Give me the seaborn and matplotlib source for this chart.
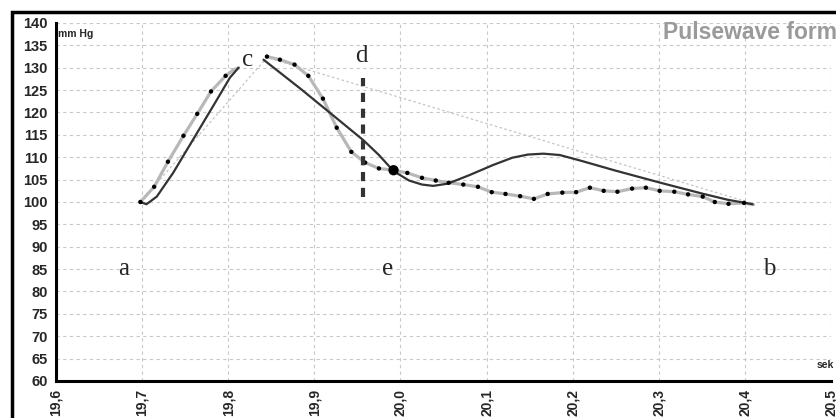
import numpy as np
import pandas as pd
import matplotlib
matplotlib.use('Agg')
import matplotlib.pyplot as plt
import matplotlib.patches as patches
import matplotlib.ticker as mticker
import seaborn as sns

# measured pulse wave (black dots on the light gray curve)
dots_x = [19.698, 19.714, 19.730, 19.748, 19.764, 19.780, 19.797,
          19.845, 19.860, 19.877, 19.893, 19.910, 19.926, 19.943, 19.959, 19.975,
          20.008, 20.025, 20.041, 20.056, 20.073, 20.090, 20.106, 20.122, 20.139,
          20.155, 20.171, 20.188, 20.204, 20.220, 20.236, 20.252, 20.269, 20.285,
          20.301, 20.318, 20.334, 20.351, 20.365, 20.381, 20.399]
dots_y = [100.0, 103.4, 109.0, 114.8, 119.7, 124.7, 128.2,
          132.5, 131.8, 130.7, 128.2, 123.1, 116.6, 111.2, 108.8, 107.5,
          106.5, 105.4, 104.8, 104.3, 103.9, 103.4, 102.2, 101.8, 101.3,
          100.7, 101.8, 102.1, 102.2, 103.2, 102.5, 102.3, 103.0, 103.2,
          102.5, 102.3, 101.7, 101.2, 100.0, 99.6, 99.8]

# light gray curve: rising part up to the "c" label, then falling part
wave_up_x = [19.698, 19.714, 19.730, 19.748, 19.764, 19.780, 19.797, 19.806, 19.812]
wave_up_y = [100.0, 103.4, 109.0, 114.8, 119.7, 124.7, 128.2, 129.5, 130.0]
wave_down_x = [19.845, 19.860, 19.877, 19.893, 19.910, 19.926, 19.943, 19.959, 19.975,
               19.992, 20.008, 20.025, 20.041, 20.056, 20.073, 20.090, 20.106, 20.122,
               20.139, 20.155, 20.171, 20.188, 20.204, 20.220, 20.236, 20.252, 20.269,
               20.285, 20.301, 20.318, 20.334, 20.351, 20.365, 20.381, 20.399, 20.410]
wave_down_y = [132.5, 131.8, 130.7, 128.2, 123.1, 116.6, 111.2, 108.8, 107.5,
               107.1, 106.5, 105.4, 104.8, 104.3, 103.9, 103.4, 102.2, 101.8,
               101.3, 100.7, 101.8, 102.1, 102.2, 103.2, 102.5, 102.3, 103.0,
               103.2, 102.5, 102.3, 101.7, 101.2, 100.0, 99.6, 99.8, 99.4]

# dark model curve
model_up_x = [19.698, 19.705, 19.717, 19.736, 19.764, 19.787, 19.802, 19.812]
model_up_y = [100.0, 99.5, 101.2, 106.5, 115.5, 122.9, 127.8, 130.0]
model_down_x = [19.841, 19.884, 19.919, 19.957, 19.975, 19.992, 20.010, 20.025, 20.038,
                20.055, 20.080, 20.108, 20.130, 20.148, 20.166, 20.185, 20.210, 20.250,
                20.302, 20.350, 20.380, 20.409]
model_down_y = [131.8, 125.3, 119.8, 113.8, 110.5, 106.9, 104.8, 103.9, 103.6,
                104.1, 106.0, 108.3, 109.9, 110.6, 110.8, 110.5, 109.2, 107.0,
                104.3, 101.9, 100.5, 99.5]

# thin triangle a-c-b
tri_x = [19.698, 19.845, 20.410]
tri_y = [100.0, 132.3, 99.6]

# special marks
notch_x, notch_y = 19.992, 107.1
d_x, d_y = [19.957, 19.957], [101.2, 127.8]

letters = ['a', 'b', 'c', 'd', 'e']
letters_x = [19.679, 20.428, 19.823, 19.955, 19.985]
letters_y = [85.0, 85.0, 131.8, 132.6, 85.0]

x_ticks = [19.6, 19.7, 19.8, 19.9, 20.0, 20.1, 20.2, 20.3, 20.4, 20.5]
y_ticks = list(range(60, 145, 5))

sns.set_style('white')
plt.rcParams['font.family'] = ['Liberation Sans', 'DejaVu Sans']

fig = plt.figure(figsize=(8.36, 4.18), dpi=100)
ax = fig.add_axes([56 / 836, 37 / 418, 775 / 836, 358 / 418])

# grid
for xv in x_ticks:
    ax.axvline(xv, color='#c8c8c8', lw=0.8, ls=(0, (3, 3)), zorder=0)
for yv in y_ticks:
    ax.axhline(yv, color='#c8c8c8', lw=0.8, ls=(0, (3, 3)), zorder=0)

sns.lineplot(x=tri_x, y=tri_y, sort=False, estimator=None, color='#c4c4c4',
             lw=0.9, ls=(0, (2, 2)), ax=ax, zorder=1)

sns.lineplot(x=wave_up_x, y=wave_up_y, sort=False, estimator=None, color='#b8b8b8',
             lw=2.3, ax=ax, zorder=2)
sns.lineplot(x=wave_down_x, y=wave_down_y, sort=False, estimator=None, color='#b8b8b8',
             lw=2.3, ax=ax, zorder=2)

sns.lineplot(x=model_up_x, y=model_up_y, sort=False, estimator=None, color='#333333',
             lw=1.6, ax=ax, zorder=3)
sns.lineplot(x=model_down_x, y=model_down_y, sort=False, estimator=None, color='#333333',
             lw=1.6, ax=ax, zorder=3)

sns.scatterplot(x=dots_x, y=dots_y, color='black', s=10, edgecolor='none', ax=ax, zorder=4)
sns.scatterplot(x=[notch_x], y=[notch_y], color='black', s=55, edgecolor='none', ax=ax, zorder=5)

sns.lineplot(x=d_x, y=d_y, sort=False, estimator=None, color='#333333',
             lw=3, ls=(0, (2.2, 1.6)), ax=ax, zorder=4)

for t, lx, ly in zip(letters, letters_x, letters_y):
    ax.text(lx, ly, t, fontsize=18, family=['Liberation Serif', 'DejaVu Serif'],
            ha='center', va='center', zorder=6)

ax.text(19.602, 137.5, 'mm Hg', fontsize=7.5, fontweight='bold', ha='left', va='center')
ax.text(20.503, 63.6, 'sek', fontsize=7.5, fontweight='bold', ha='right', va='center')
ax.text(20.305, 137.8, 'Pulsewave form', fontsize=16.5, fontweight='bold',
        color='#9a9a9a', ha='left', va='center', clip_on=False)

ax.set_xlim(19.6, 20.5)
ax.set_ylim(60, 140)
ax.set_xticks(x_ticks)
ax.set_yticks(y_ticks)
ax.xaxis.set_major_formatter(mticker.FuncFormatter(lambda v, p: f'{v:.1f}'.replace('.', ',')))
ax.tick_params(axis='both', direction='out', length=4, width=1.5, color='black', pad=2)
ax.tick_params(axis='y', labelsize=10.5)
ax.tick_params(axis='x', labelsize=10, labelrotation=90)
for lab in ax.get_xticklabels() + ax.get_yticklabels():
    lab.set_fontweight('bold')

for side in ['top', 'right']:
    ax.spines[side].set_visible(False)
for side in ['left', 'bottom']:
    ax.spines[side].set_linewidth(2.2)
    ax.spines[side].set_color('black')
ax.set_xlabel('')
ax.set_ylabel('')

# outer frame of the original screenshot
fig.add_artist(patches.Rectangle((12 / 836, -0.2), 1.0, (418 - 12) / 418 + 0.2,
                                 transform=fig.transFigure, fill=False,
                                 lw=2.5, edgecolor='black'))

fig.savefig('out.png', dpi=100)
